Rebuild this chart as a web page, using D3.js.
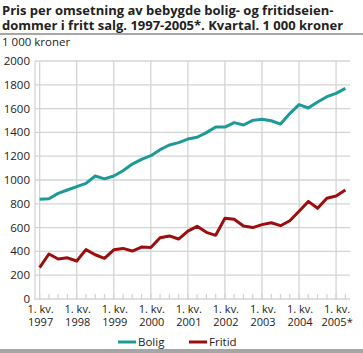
<!DOCTYPE html>
<html>
<head>
<meta charset="utf-8">
<script src="https://cdn.jsdelivr.net/npm/d3@7"></script>
<style>
  body { margin: 0; background: #fff; }
  text { font-family: "Open Sans", sans-serif; fill: #222; }
</style>
</head>
<body>
<div id="chart"></div>
<script>
// quarterly data, 1. kv. 1997 - 2. kv. 2005
const quarters = d3.range(34);
const bolig = [838, 843, 888, 916, 944, 972, 1034, 1010, 1034, 1078, 1134, 1174,
  1204, 1255, 1294, 1314, 1344, 1359, 1398, 1445, 1445, 1482, 1462, 1501,
  1510, 1498, 1470, 1558, 1634, 1605, 1655, 1700, 1728, 1770];
const fritid = [263, 378, 336, 346, 319, 415, 372, 342, 413, 425, 403, 436,
  433, 515, 530, 504, 571, 611, 560, 535, 678, 670, 613, 600,
  625, 641, 616, 658, 738, 820, 762, 846, 866, 916];
const yearLabels = ["1997", "1998", "1999", "2000", "2001", "2002", "2003", "2004", "2005*"];
const yTicks = d3.range(0, 2001, 200);
const seriesNames = ["Bolig", "Fritid"];
const seriesColors = ["#1c9a96", "#9c0e0e"];

const W = 363, H = 353;

const svg = d3.select("#chart")
    .append("svg")
    .attr("width", W)
    .attr("height", H);

const x = d3.scaleLinear().domain([-0.5, 33.5]).range([35, 350]);
const y = d3.scaleLinear().domain([0, 2000]).range([299, 61]);

// title
const title = svg.append("text")
    .attr("x", 2)
    .style("font-size", "13px")
    .style("font-weight", "bold");
title.append("tspan").attr("x", 2).attr("y", 15)
    .text("Pris per omsetning av bebygde bolig- og fritidseien-");
title.append("tspan").attr("x", 2).attr("y", 30)
    .text("dommer i fritt salg. 1997-2005*. Kvartal. 1 000 kroner");

svg.append("rect")
    .attr("x", 0).attr("y", 33)
    .attr("width", W).attr("height", 2)
    .attr("fill", "#a6a6a6");

svg.append("text")
    .attr("x", 2).attr("y", 46)
    .style("font-size", "11.5px")
    .text("1 000 kroner");

// grid
const grid = svg.append("g").attr("stroke", "#d4d4d4").attr("stroke-width", 1.3);
grid.selectAll(".hg")
    .data(yTicks)
    .join("line")
    .attr("x1", x(-0.5)).attr("x2", x(33.5))
    .attr("y1", d => y(d)).attr("y2", d => y(d));

grid.selectAll(".vg")
    .data(yearLabels.map((d, i) => i * 4))
    .join("line")
    .attr("x1", d => x(d)).attr("x2", d => x(d))
    .attr("y1", y(2000)).attr("y2", y(0) + 1);

// left axis line
grid.append("line")
    .attr("x1", x(-0.5)).attr("x2", x(-0.5))
    .attr("y1", y(2000)).attr("y2", y(0) + 1);

// quarter ticks
grid.selectAll(".qt")
    .data(quarters)
    .join("line")
    .attr("x1", d => x(d)).attr("x2", d => x(d))
    .attr("y1", y(0) - 5).attr("y2", y(0));

// y labels
svg.append("g")
    .selectAll("text")
    .data(yTicks)
    .join("text")
    .attr("x", 30)
    .attr("y", d => y(d) + 4)
    .attr("text-anchor", "end")
    .style("font-size", "11.5px")
    .text(d => d);

// x labels, two lines each
const xg = svg.append("g")
    .attr("text-anchor", "middle")
    .style("font-size", "11px");
xg.selectAll(".kv")
    .data(yearLabels)
    .join("text")
    .attr("x", (d, i) => x(i * 4) + 1)
    .attr("y", 313)
    .text("1. kv.");
xg.selectAll(".yr")
    .data(yearLabels)
    .join("text")
    .attr("x", (d, i) => x(i * 4) + 1)
    .attr("y", 326)
    .text(d => d);

// lines
const line = d3.line()
    .x((d, i) => x(quarters[i]))
    .y(d => y(d));

[bolig, fritid].forEach((s, k) => {
    svg.append("path")
        .datum(s)
        .attr("d", line)
        .attr("fill", "none")
        .attr("stroke", seriesColors[k])
        .attr("stroke-width", 3)
        .attr("stroke-linejoin", "round");
});

// legend
const legendX = [118, 189];
seriesNames.forEach((n, k) => {
    svg.append("line")
        .attr("x1", legendX[k]).attr("x2", legendX[k] + 18)
        .attr("y1", 342).attr("y2", 342)
        .attr("stroke", seriesColors[k])
        .attr("stroke-width", 3);
    svg.append("text")
        .attr("x", legendX[k] + 20)
        .attr("y", 346)
        .style("font-size", "11.5px")
        .text(n);
});

svg.append("rect")
    .attr("x", 0).attr("y", 349)
    .attr("width", W).attr("height", 4)
    .attr("fill", "#a6a6a6");
</script>
</body>
</html>
